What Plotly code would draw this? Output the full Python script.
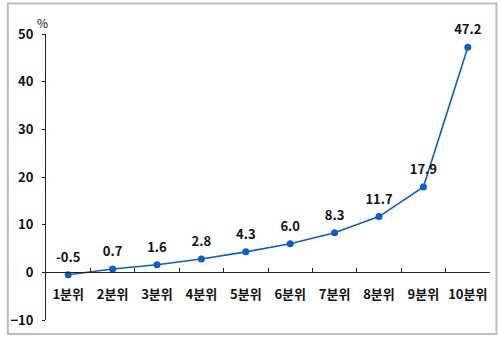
import plotly.graph_objects as go

categories = ["1분위", "2분위", "3분위", "4분위", "5분위", "6분위", "7분위", "8분위", "9분위", "10분위"]
values = [-0.5, 0.7, 1.6, 2.8, 4.3, 6.0, 8.3, 11.7, 17.9, 47.2]
labels = [f"{v:.1f}" for v in values]
y_ticks = [-10, 0, 10, 20, 30, 40, 50]

font_family = "Noto Sans CJK KR"
blue = "#0a5ec9"

fig = go.Figure()
fig.add_trace(go.Scatter(
    x=categories, y=values, mode="lines+markers",
    line=dict(color=blue, width=1.6),
    marker=dict(color=blue, size=7),
    cliponaxis=False, showlegend=False,
))
fig.add_trace(go.Scatter(
    x=categories, y=values, mode="markers+text",
    text=labels, textposition="top center",
    textfont=dict(family=font_family, size=13, color="#111", weight="bold"),
    marker=dict(color="rgba(0,0,0,0)", size=14),
    cliponaxis=False, showlegend=False, hoverinfo="skip",
))

W, H = 500, 339
ml, mr, mt, mb = 42, 10, 34, 18
pw, ph = W - ml - mr, H - mt - mb

fig.update_layout(
    width=W, height=H,
    margin=dict(l=ml, r=mr, t=mt, b=mb),
    paper_bgcolor="white", plot_bgcolor="white",
    font=dict(family=font_family, size=12, color="#111"),
    xaxis=dict(
        type="category", anchor="free", position=10 / 60,
        showline=True, linecolor="#222", linewidth=1,
        ticks="inside", ticklen=4, tickcolor="#222", tickson="boundaries",
        ticklabelstandoff=10, tickangle=0,
        tickfont=dict(family=font_family, size=13, weight="bold"),
        showgrid=False, zeroline=False,
        range=[-0.5, 9.5],
    ),
    yaxis=dict(
        range=[-10, 50], tickvals=y_ticks,
        showline=True, linecolor="#222", linewidth=1,
        ticks="outside", ticklen=3, tickcolor="#222",
        ticklabelstandoff=6,
        tickfont=dict(family=font_family, size=13, weight="bold"),
        showgrid=False, zeroline=False,
    ),
)

fig.add_annotation(
    text="%", xref="paper", yref="paper",
    x=(38 - ml) / pw, y=(H - mb - 22) / ph,
    showarrow=False, font=dict(family=font_family, size=12, color="#111"),
    xanchor="center", yanchor="middle",
)

# outer border
fig.add_shape(
    type="rect", xref="paper", yref="paper",
    x0=(3.5 - ml) / pw, x1=(496.5 - ml) / pw,
    y0=(H - mb - 335) / ph, y1=(H - mb - 3.5) / ph,
    line=dict(color="#bdbdbd", width=2), fillcolor="rgba(0,0,0,0)",
    layer="below",
)

fig.write_html("out.html")
